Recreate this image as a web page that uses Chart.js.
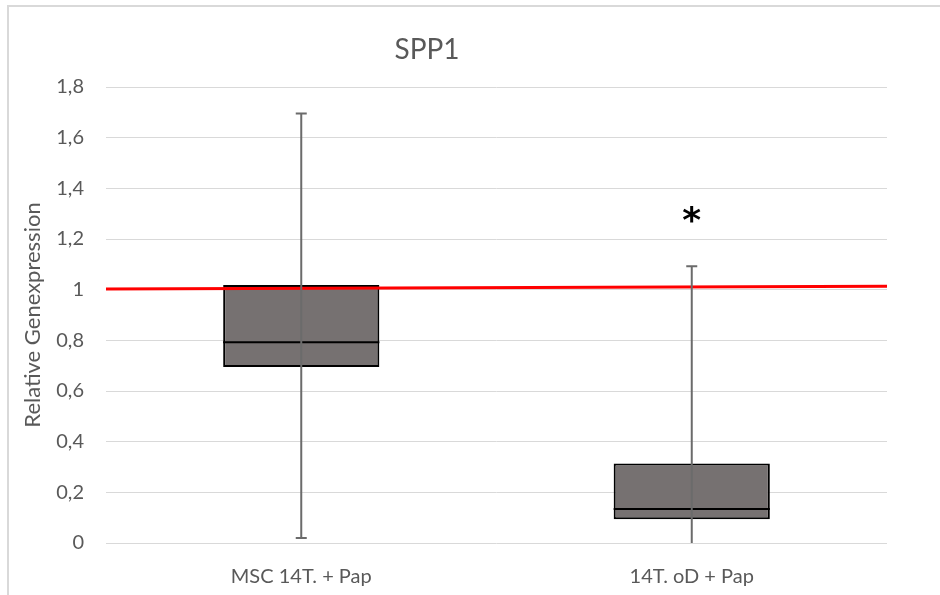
<!DOCTYPE html>
<html lang="de">
<head>
<meta charset="utf-8">
<title>SPP1</title>
<script src="https://cdn.jsdelivr.net/npm/chart.js@4.4.1/dist/chart.umd.min.js"></script>
<style>
  html, body { margin: 0; padding: 0; background: #ffffff; }
</style>
</head>
<body>
<canvas id="spp1Chart" width="940" height="595"></canvas>
<script>
const categories = ['MSC 14T. + Pap', '14T. oD + Pap'];
const whiskerMin = [0.02, 0];
const q1 = [0.695, 0.094];
const median = [0.792, 0.134];
const q3 = [1.018, 0.314];
const whiskerMax = [1.695, 1.092];
const significance = ['', '*'];
const significanceLevel = 1.295;
const referenceLine = [1.003, 1.013];
const yTickValues = [0, 0.2, 0.4, 0.6, 0.8, 1, 1.2, 1.4, 1.6, 1.8];

const TEXT_COLOR = '#595959';
const GRID_COLOR = '#d9d9d9';
const FONT = 'Lato';

function formatTick(value) {
  return Number(value.toFixed(1)).toString().replace('.', ',');
}

// Rahmen + weisser Hintergrund
const framePlugin = {
  id: 'frame',
  beforeDraw(chart) {
    const c = chart.ctx;
    c.save();
    c.fillStyle = '#ffffff';
    c.fillRect(0, 0, chart.width, chart.height);
    c.strokeStyle = GRID_COLOR;
    c.lineWidth = 2;
    c.beginPath();
    c.moveTo(8, chart.height);
    c.lineTo(8, 6);
    c.lineTo(chart.width, 6);
    c.stroke();
    c.restore();
  }
};

// Whisker, Median und Signifikanzsternchen
const boxPlotPlugin = {
  id: 'boxPlot',
  afterDatasetsDraw(chart) {
    const c = chart.ctx;
    const y = chart.scales.y;
    const meta = chart.getDatasetMeta(0);
    c.save();
    meta.data.forEach((bar, i) => {
      const half = bar.width / 2;
      // Median
      c.strokeStyle = '#000000';
      c.lineWidth = 2;
      c.beginPath();
      c.moveTo(bar.x - half, y.getPixelForValue(median[i]));
      c.lineTo(bar.x + half, y.getPixelForValue(median[i]));
      c.stroke();

      // Whisker
      const top = y.getPixelForValue(whiskerMax[i]);
      const bottom = y.getPixelForValue(whiskerMin[i]);
      c.strokeStyle = '#6b6b6b';
      c.lineWidth = 2;
      c.beginPath();
      c.moveTo(bar.x, top);
      c.lineTo(bar.x, bottom);
      c.moveTo(bar.x - 5.5, top);
      c.lineTo(bar.x + 5.5, top);
      if (whiskerMin[i] > y.min) {
        c.moveTo(bar.x - 5.5, bottom);
        c.lineTo(bar.x + 5.5, bottom);
      }
      c.stroke();

      if (significance[i]) {
        c.fillStyle = '#000000';
        c.font = 'bold 36px "DejaVu Sans"';
        c.textAlign = 'center';
        c.textBaseline = 'alphabetic';
        const m = c.measureText(significance[i]);
        const mid = (m.actualBoundingBoxAscent - m.actualBoundingBoxDescent) / 2;
        c.fillText(significance[i], bar.x, y.getPixelForValue(significanceLevel) + mid);
      }
    });
    c.restore();
  }
};

// Diagrammtitel
const titlePlugin = {
  id: 'chartTitle',
  afterDraw(chart) {
    const c = chart.ctx;
    c.save();
    c.fillStyle = TEXT_COLOR;
    c.font = '28px ' + FONT;
    c.textAlign = 'center';
    c.textBaseline = 'middle';
    c.fillText('SPP1', 427, 50);
    c.restore();
  }
};

const ctx = document.getElementById('spp1Chart');
new Chart(ctx, {
  type: 'bar',
  data: {
    labels: categories,
    datasets: [
      {
        label: 'Box',
        data: q1.map((v, i) => [v, q3[i]]),
        backgroundColor: '#767171',
        borderColor: '#000000',
        borderWidth: 2,
        borderSkipped: false,
        grouped: false,
        barPercentage: 0.4,
        categoryPercentage: 1,
        order: 2
      },
      {
        type: 'line',
        label: 'Referenz',
        xAxisID: 'xRef',
        data: referenceLine.map((v, i) => ({ x: i, y: v })),
        borderColor: '#ff0000',
        borderWidth: 3,
        pointRadius: 0,
        fill: false,
        order: 1
      }
    ]
  },
  options: {
    responsive: false,
    animation: false,
    devicePixelRatio: 1,
    layout: { padding: { left: 0, right: 53, top: 87, bottom: 0 } },
    plugins: {
      legend: { display: false },
      tooltip: { enabled: false }
    },
    scales: {
      x: {
        grid: { display: false },
        border: { display: false },
        ticks: { color: TEXT_COLOR, font: { family: FONT, size: 20 }, padding: 14 },
        afterFit(scale) { scale.height = 52; }
      },
      xRef: {
        type: 'linear',
        display: false,
        offset: false,
        grid: { offset: false },
        min: 0,
        max: 1
      },
      y: {
        min: 0,
        max: 1.8,
        grid: { color: GRID_COLOR, lineWidth: 1, drawTicks: false },
        border: { display: false },
        ticks: {
          color: TEXT_COLOR,
          font: { family: FONT, size: 20 },
          padding: 22,
          callback: (value) => formatTick(value)
        },
        afterBuildTicks(scale) {
          scale.ticks = yTickValues.map(v => ({ value: v }));
        },
        afterFit(scale) { scale.width = 106; },
        title: {
          display: true,
          text: 'Relative Genexpression',
          color: TEXT_COLOR,
          font: { family: FONT, size: 22 },
          padding: { top: 20, bottom: 0 }
        }
      }
    }
  },
  plugins: [framePlugin, boxPlotPlugin, titlePlugin]
});
</script>
</body>
</html>
